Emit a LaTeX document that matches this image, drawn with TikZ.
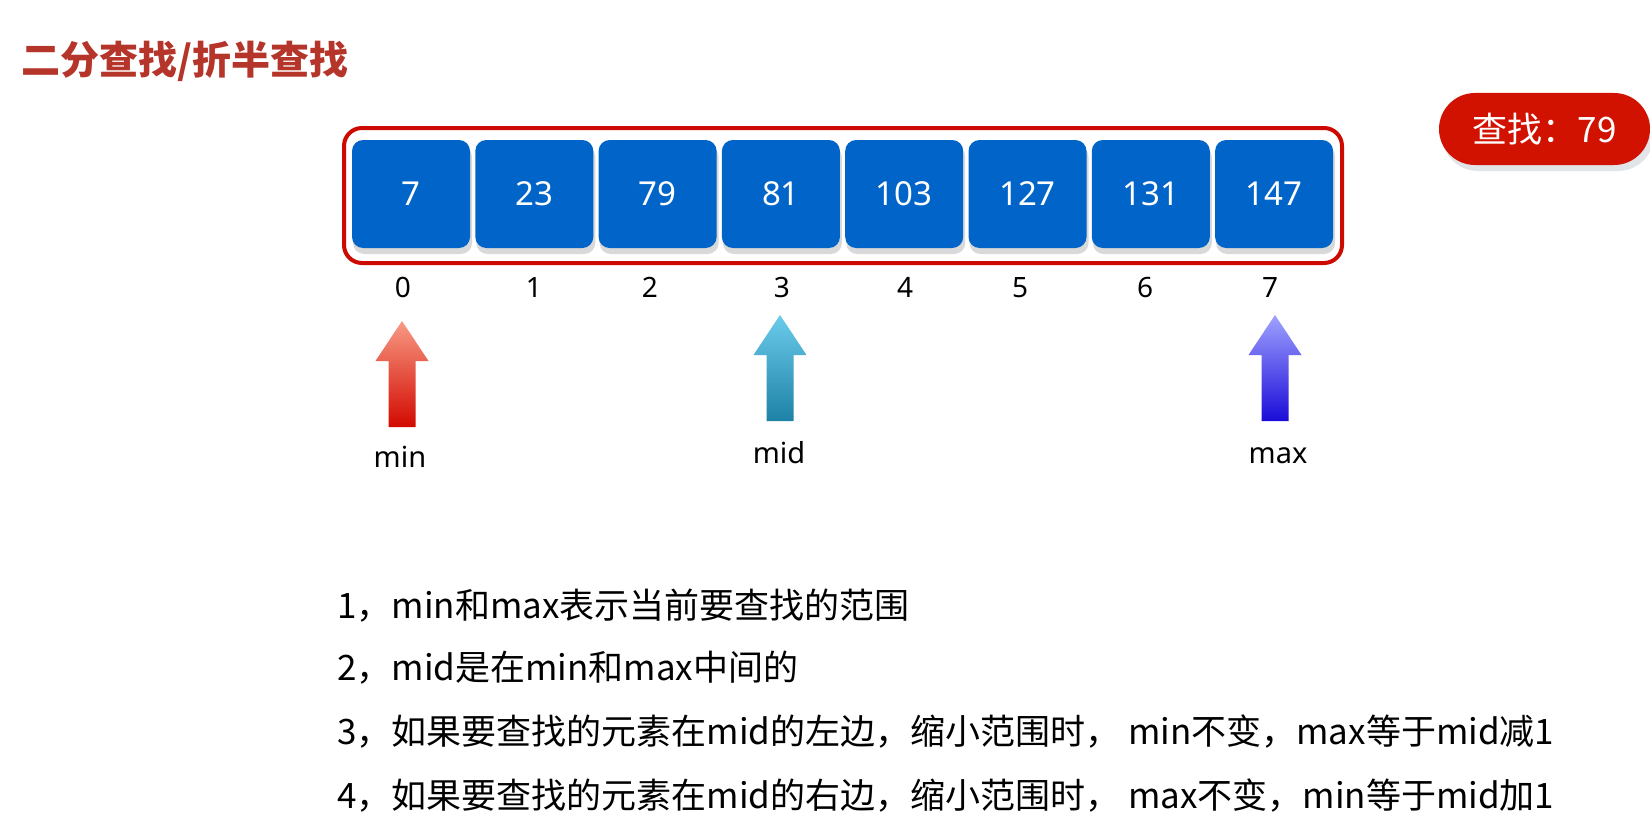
\documentclass[tikz,border=0pt]{standalone}
\usepackage{fontspec}
\newfontfamily\cjk{Noto Sans CJK SC}
\newfontfamily\numf{Noto Sans}
\definecolor{titlered}{HTML}{B5352A}
\definecolor{cellblue}{HTML}{0064C8}
\definecolor{cellshadow}{HTML}{D9D9D9}
\definecolor{boxred}{HTML}{CC0A00}
\definecolor{badgered}{HTML}{D11200}
\definecolor{badgeshadow}{HTML}{E2E5E8}
\definecolor{minTop}{HTML}{F89A84}
\definecolor{minBot}{HTML}{D20A00}
\definecolor{midTop}{HTML}{6CCBEB}
\definecolor{midBot}{HTML}{1D82A6}
\definecolor{maxTop}{HTML}{A0A2FF}
\definecolor{maxBot}{HTML}{1A0CD8}
\begin{document}
\begin{tikzpicture}[x=1pt,y=-1pt,
  cell/.style={rectangle, rounded corners=11pt, fill=cellblue, minimum width=118pt,
    minimum height=108pt, inner sep=0pt, text=white, font=\numf\fontsize{33}{38}\selectfont},
  idx/.style={anchor=base, inner sep=0pt, text=black, font=\numf\fontsize{28}{32}\selectfont},
  lbl/.style={anchor=base, inner sep=0pt, text=black, font=\numf\fontsize{29}{34}\selectfont},
  line/.style={anchor=west, inner sep=0pt, text=black, font=\cjk\fontsize{35}{42}\selectfont},
  pics/uparr/.style 2 args={code={
    \shade[top color=#1, bottom color=#2] (0,0) -- (26.5,40) -- (13.5,40) -- (13.5,106)
      -- (-13.5,106) -- (-13.5,40) -- (-26.5,40) -- cycle;}}
]
\useasboundingbox (0,0) rectangle (1650,816);
\fill[white] (0,0) rectangle (1650,816);

% title
\node[anchor=west, inner sep=0pt, text=titlered, font=\cjk\bfseries\fontsize{39}{45}\selectfont]
  (title) at (21,61) {二分查找/折半查找};

% array frame
\draw[boxred, line width=4pt, rounded corners=18pt] (344,128) rectangle (1342,263);

% cells
\foreach \v [count=\i from 0] in {7,23,79,81,103,127,131,147} {
  \pgfmathsetmacro\cx{411+123.3*\i}
  \fill[cellshadow, rounded corners=11pt] (\cx-58,146) rectangle (\cx+61,254);
  \node[cell] (c\i) at (\cx,194) {\v};
}

% indices
\foreach \x [count=\i from 0] in {403,534,650,782,905,1020,1145,1270} {
  \node[idx] (i\i) at (\x,297) {\i};
}

% arrows
\pic at (402,321) {uparr={minTop}{minBot}};
\pic at (780,315) {uparr={midTop}{midBot}};
\pic at (1275,315) {uparr={maxTop}{maxBot}};

\node[lbl] (lmin) at (400,467) {min};
\node[lbl] (lmid) at (779,463) {mid};
\node[lbl] (lmax) at (1278,463) {max};

% badge
\fill[badgeshadow, rounded corners=36pt] (1442,100) rectangle (1654,171);
\node[fill=badgered, rounded corners=36pt, minimum width=211pt, minimum height=72pt,
  inner sep=0pt, text=white, font=\cjk\fontsize{35}{42}\selectfont]
  (badge) at (1544.5,129) {查找：79};

% notes
\node[line] (n1) at (337,606) {1，min和max表示当前要查找的范围};
\node[line] (n2) at (337,668) {2，mid是在min和max中间的};
\node[line] (n3) at (337,732) {3，如果要查找的元素在mid的左边，缩小范围时， min不变，max等于mid减1};
\node[line] (n4) at (337,796) {4，如果要查找的元素在mid的右边，缩小范围时， max不变，min等于mid加1};
\end{tikzpicture}
\end{document}
